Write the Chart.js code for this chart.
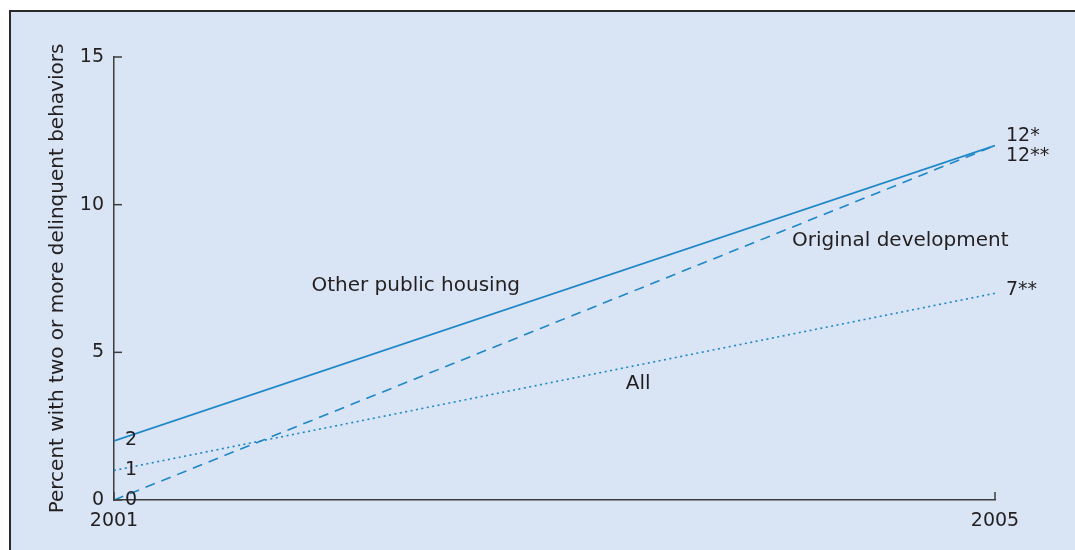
<html><head>
<meta charset="UTF-8">
<title>Delinquent behaviors 2001-2005</title>
<style>
    body, html {
        margin: 0;
        padding: 0;
        background: #fff;
        font-family: 'DejaVu Sans', sans-serif;
    }
    #frame {
        position: absolute;
        left: 9px;
        top: 10px;
        width: 1064px;
        height: 538px;
        background: #d9e4f4;
        border-top: 2px solid #2a2a2a;
        border-left: 2px solid #2a2a2a;
    }
    #chart {
        display: block;
    }
</style>
<script src="https://cdn.jsdelivr.net/npm/chart.js@4.4.0/dist/chart.umd.min.js"></script>
</head>
<body>
<div id="frame"><canvas id="chart" width="1064" height="538"></canvas></div>
<script>
    // years on the x axis
    const years = [2001, 2005];
    // series values
    const otherHousing = [2, 12];
    const originalDev = [0, 12];
    const allYouth = [1, 7];
    // tick labels
    const yTicks = [0, 5, 10, 15];
    const xTicks = [2001, 2005];

    const lineColor = '#1e87c8';
    const textColor = '#231f20';
    const axisColor = '#3c3c3c';

    // value labels at line ends: [x, y, text, dx, dy]
    const endLabels = [
        [2001, 2, '2', 11, -1],
        [2001, 1, '1', 11, 0],
        [2001, 0, '0', 11, 0],
        [2005, 12, '12*', 11, -10],
        [2005, 12, '12**', 11, 10],
        [2005, 7, '7**', 11, -3]
    ];
    // series names placed in data space: [x, y, text]
    const nameLabels = [
        [2002.37, 7.25, 'Other public housing'],
        [2004.57, 8.77, 'Original development'],
        [2003.38, 3.93, 'All']
    ];

    const toPoints = vals => vals.map((v, i) => ({x: years[i], y: v}));

    const annotate = {
        id: 'annotate',
        afterDraw(chart) {
            const ctx = chart.ctx;
            const xs = chart.scales.x, ys = chart.scales.y;
            ctx.save();
            // inward tick marks
            ctx.strokeStyle = axisColor;
            ctx.lineWidth = 1.5;
            ys.ticks.forEach(t => {
                const py = ys.getPixelForValue(t.value);
                ctx.beginPath();
                ctx.moveTo(xs.left, py);
                ctx.lineTo(xs.left + 8, py);
                ctx.stroke();
            });
            xs.ticks.forEach(t => {
                const px = xs.getPixelForValue(t.value);
                ctx.beginPath();
                ctx.moveTo(px, ys.bottom);
                ctx.lineTo(px, ys.bottom - 8);
                ctx.stroke();
            });
            ctx.fillStyle = textColor;
            ctx.font = "19px 'DejaVu Sans'";
            ctx.textBaseline = 'middle';
            ctx.textAlign = 'left';
            endLabels.forEach(([x, y, txt, dx, dy]) => {
                ctx.fillText(txt, xs.getPixelForValue(x) + dx, ys.getPixelForValue(y) + dy);
            });
            ctx.font = "20px 'DejaVu Sans'";
            ctx.textAlign = 'center';
            nameLabels.forEach(([x, y, txt]) => {
                ctx.fillText(txt, xs.getPixelForValue(x), ys.getPixelForValue(y));
            });
            ctx.restore();
        }
    };

    new Chart(document.getElementById('chart'), {
        type: 'line',
        data: {
            datasets: [
                {
                    label: 'All',
                    data: toPoints(allYouth),
                    borderColor: lineColor,
                    borderWidth: 1.6,
                    borderDash: [2, 3.5]
                },
                {
                    label: 'Original development',
                    data: toPoints(originalDev),
                    borderColor: lineColor,
                    borderWidth: 1.6,
                    borderDash: [10, 7]
                },
                {
                    label: 'Other public housing',
                    data: toPoints(otherHousing),
                    borderColor: lineColor,
                    borderWidth: 1.6
                }
            ]
        },
        options: {
            responsive: false,
            animation: false,
            devicePixelRatio: 1,
            elements: { point: { radius: 0 } },
            layout: { padding: { top: 45, right: 80, left: 0, bottom: 0 } },
            plugins: {
                legend: { display: false },
                tooltip: { enabled: false }
            },
            scales: {
                x: {
                    type: 'linear',
                    min: years[0],
                    max: years[years.length - 1],
                    afterBuildTicks: s => { s.ticks = xTicks.map(v => ({value: v})); },
                    afterFit: s => { s.height = 50; },
                    grid: { display: false, drawTicks: false },
                    border: { display: true, color: axisColor, width: 1.5 },
                    ticks: {
                        padding: 10,
                        color: textColor,
                        font: { family: 'DejaVu Sans', size: 19 },
                        callback: v => String(v)
                    }
                },
                y: {
                    min: 0,
                    max: 15,
                    afterBuildTicks: s => { s.ticks = yTicks.map(v => ({value: v})); },
                    afterFit: s => { s.width = 103; },
                    grid: { display: false, drawTicks: false },
                    border: { display: true, color: axisColor, width: 1.5 },
                    ticks: {
                        padding: 10,
                        color: textColor,
                        font: { family: 'DejaVu Sans', size: 19 }
                    },
                    title: {
                        display: true,
                        text: 'Percent with two or more delinquent behaviors',
                        color: textColor,
                        font: { family: 'DejaVu Sans', size: 20 },
                        padding: { top: 35, bottom: 0 }
                    }
                }
            }
        },
        plugins: [annotate]
    });
</script>
</body></html>
